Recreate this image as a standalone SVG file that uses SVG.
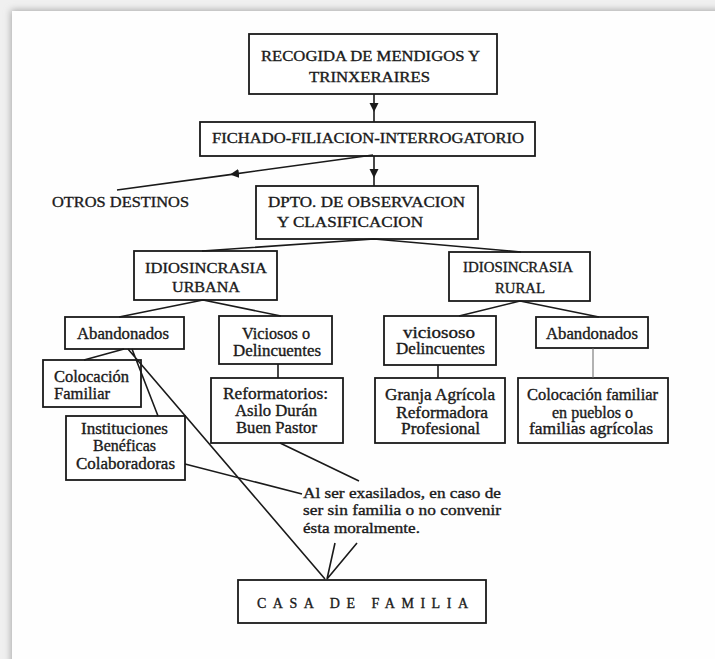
<svg xmlns="http://www.w3.org/2000/svg" width="715" height="659" viewBox="0 0 715 659">
<defs>
<filter id="sh" x="-5%" y="-5%" width="110%" height="110%"><feGaussianBlur stdDeviation="3.5"/></filter>
<marker id="arr" viewBox="0 0 10 10" refX="10" refY="5" markerWidth="9" markerHeight="10" markerUnits="userSpaceOnUse" orient="auto"><path d="M0,0 L10,5 L0,10 z" fill="#1a1a1a"/></marker>
<style>
.box{fill:#fff;stroke:#1a1a1a;stroke-width:1.8}
.t{font-family:"Liberation Serif",serif;font-size:16px;fill:#1a1a1a;stroke:#1a1a1a;stroke-width:0.35}
.c{font-size:15px}
.ln{stroke:#1a1a1a;stroke-width:1.6;fill:none}
.thin{stroke:#666;stroke-width:1}
</style>
</defs>
<rect x="0" y="0" width="715" height="659" fill="#f0f0f0"/>
<rect x="11" y="10" width="720" height="670" fill="#a8a8a8" filter="url(#sh)"/>
<rect x="12" y="11" width="703" height="648" fill="#fefefe"/>

<g id="n-recogida"><rect class="box" x="249" y="34" width="248" height="60"/>
<text class="t c" x="261" y="61" textLength="219" lengthAdjust="spacingAndGlyphs">RECOGIDA DE MENDIGOS Y</text>
<text class="t c" x="309" y="82" textLength="121" lengthAdjust="spacingAndGlyphs">TRINXERAIRES</text></g>

<g id="n-fichado"><rect class="box" x="200" y="122" width="335" height="34"/>
<text class="t c" x="212" y="143" textLength="312" lengthAdjust="spacingAndGlyphs">FICHADO-FILIACION-INTERROGATORIO</text></g>

<g id="n-otros"><text class="t c" x="52" y="207" textLength="137" lengthAdjust="spacingAndGlyphs">OTROS DESTINOS</text></g>

<g id="n-dpto"><rect class="box" x="256" y="186" width="222" height="53"/>
<text class="t c" x="268" y="207" textLength="197" lengthAdjust="spacingAndGlyphs">DPTO. DE OBSERVACION</text>
<text class="t c" x="277" y="227" textLength="146" lengthAdjust="spacingAndGlyphs">Y CLASIFICACION</text></g>

<g id="n-urbana"><rect class="box" x="134" y="251" width="143" height="49"/>
<text class="t c" x="145" y="273" textLength="122" lengthAdjust="spacingAndGlyphs">IDIOSINCRASIA</text>
<text class="t c" x="172" y="292" textLength="68" lengthAdjust="spacingAndGlyphs">URBANA</text></g>

<g id="n-rural"><rect class="box" x="449" y="252" width="141" height="49"/>
<text class="t c" x="463" y="272" textLength="110" lengthAdjust="spacingAndGlyphs">IDIOSINCRASIA</text>
<text class="t c" x="495" y="293" textLength="50" lengthAdjust="spacingAndGlyphs">RURAL</text></g>

<g id="n-abandonados-u"><rect class="box" x="65" y="317" width="119" height="32"/>
<text class="t" x="77" y="338.5" textLength="92" lengthAdjust="spacingAndGlyphs">Abandonados</text></g>

<g id="n-viciosos-u"><rect class="box" x="219" y="316" width="113" height="48"/>
<text class="t" x="242" y="338.5" textLength="68" lengthAdjust="spacingAndGlyphs">Viciosos o</text>
<text class="t" x="233" y="355.5" textLength="88" lengthAdjust="spacingAndGlyphs">Delincuentes</text></g>

<g id="n-colocacion-u"><rect class="box" x="43" y="360" width="98" height="47"/>
<text class="t" x="54" y="381.5" textLength="75" lengthAdjust="spacingAndGlyphs">Colocación</text>
<text class="t" x="54" y="398.5" textLength="56" lengthAdjust="spacingAndGlyphs">Familiar</text></g>

<g id="n-instituciones"><rect class="box" x="66" y="416" width="119" height="64"/>
<text class="t" x="81" y="433.5" textLength="87" lengthAdjust="spacingAndGlyphs">Instituciones</text>
<text class="t" x="93" y="450.5" textLength="63" lengthAdjust="spacingAndGlyphs">Benéficas</text>
<text class="t" x="76" y="468.5" textLength="99" lengthAdjust="spacingAndGlyphs">Colaboradoras</text></g>

<g id="n-reformatorios"><rect class="box" x="211" y="378" width="132" height="65"/>
<text class="t" x="223" y="398.5" textLength="105" lengthAdjust="spacingAndGlyphs">Reformatorios:</text>
<text class="t" x="235" y="415.5" textLength="82" lengthAdjust="spacingAndGlyphs">Asilo Durán</text>
<text class="t" x="236" y="432.5" textLength="81" lengthAdjust="spacingAndGlyphs">Buen Pastor</text></g>

<g id="n-viciosos-r"><rect class="box" x="384" y="316" width="112" height="49"/>
<text class="t" x="403" y="337.5" textLength="72" lengthAdjust="spacingAndGlyphs">viciososo</text>
<text class="t" x="396" y="353.5" textLength="89" lengthAdjust="spacingAndGlyphs">Delincuentes</text></g>

<g id="n-abandonados-r"><rect class="box" x="536" y="317" width="112" height="31"/>
<text class="t" x="546" y="338.5" textLength="92" lengthAdjust="spacingAndGlyphs">Abandonados</text></g>

<g id="n-granja"><rect class="box" x="375" y="378" width="130" height="65"/>
<text class="t" x="385" y="399.5" textLength="110" lengthAdjust="spacingAndGlyphs">Granja Agrícola</text>
<text class="t" x="396" y="417.5" textLength="92" lengthAdjust="spacingAndGlyphs">Reformadora</text>
<text class="t" x="401" y="433.5" textLength="79" lengthAdjust="spacingAndGlyphs">Profesional</text></g>

<g id="n-colocacion-r"><rect class="box" x="518" y="378" width="150" height="65"/>
<text class="t" x="527" y="399.5" textLength="131" lengthAdjust="spacingAndGlyphs">Colocación familiar</text>
<text class="t" x="552" y="417.5" textLength="81" lengthAdjust="spacingAndGlyphs">en pueblos o</text>
<text class="t" x="529" y="433.5" textLength="124" lengthAdjust="spacingAndGlyphs">familias agrícolas</text></g>

<g id="n-nota">
<text class="t c" x="303" y="498" textLength="198" lengthAdjust="spacingAndGlyphs">Al ser exasilados, en caso de</text>
<text class="t c" x="303" y="515" textLength="198" lengthAdjust="spacingAndGlyphs">ser sin familia o no convenir</text>
<text class="t c" x="303" y="533" textLength="117" lengthAdjust="spacingAndGlyphs">ésta moralmente.</text></g>

<g id="n-casa"><rect class="box" x="238" y="580" width="248" height="43"/>
<text class="t" style="font-size:14px" x="257" y="608" textLength="211" lengthAdjust="spacing">CASA DE FAMILIA</text></g>

<g id="connectors">
<polyline class="ln" points="374,94 374,112 374,122" marker-mid="url(#arr)"/>
<polyline class="ln" points="374,156 374,178 374,186" marker-mid="url(#arr)"/>
<polyline class="ln" points="373,155 230,174.6 117,190" marker-mid="url(#arr)"/>
<path class="ln" d="M374,239 L202,251 M374,239 L521,252"/>
<path class="ln" d="M203,300 L119,317 M203,300 L281,316"/>
<path class="ln" d="M520,301 L459,316 M520,301 L599,317"/>
<path class="ln" d="M278,364 V378 M438,365 V378"/>
<path class="ln thin" d="M593,348 V378"/>
<path class="ln" d="M124,349 L84,360 M132,349 L158,416 M128,349 L325,579"/>
<path class="ln" d="M185,464 L302,494 M280,443 L359,481"/>
<path class="ln" d="M335,543 L327,579 M357,543 L327,579"/>
</g>
</svg>
